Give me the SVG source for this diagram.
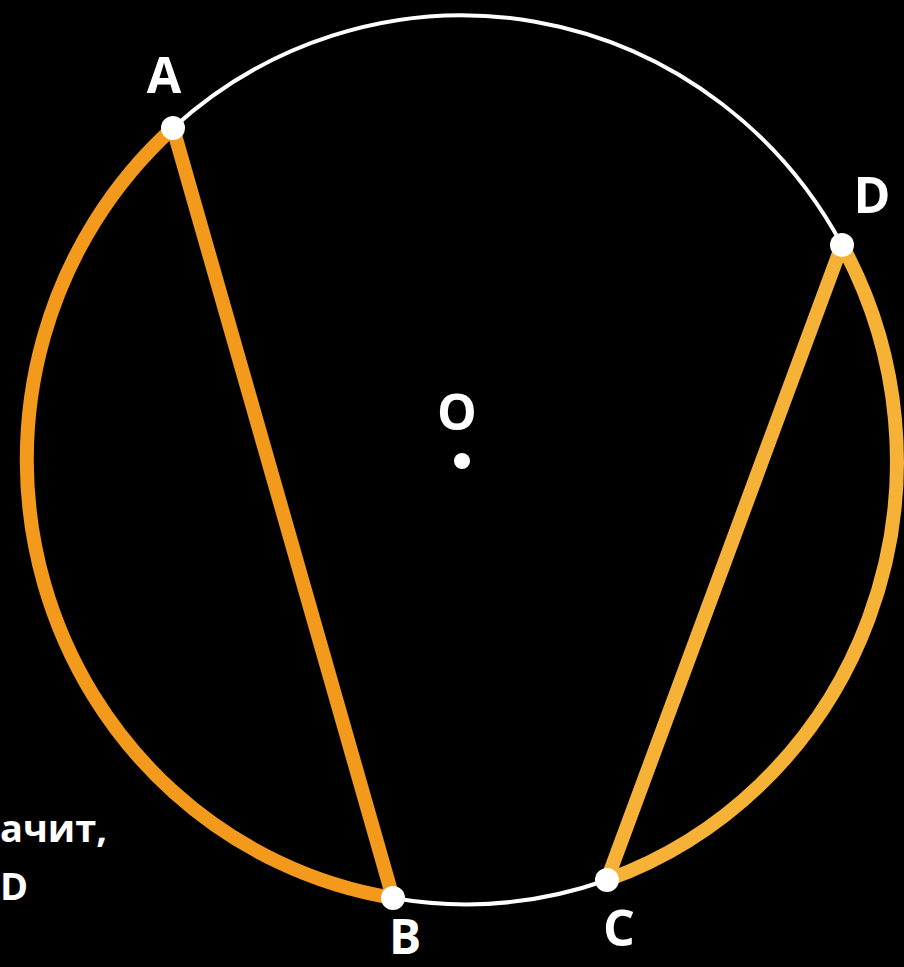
<svg xmlns="http://www.w3.org/2000/svg" width="904" height="967" viewBox="0 0 904 967">
<style>
.lbl{font-family:"Open Sans","DejaVu Sans",sans-serif;font-weight:700;fill:#ffffff;text-anchor:middle}
.txt{font-family:"Open Sans","DejaVu Sans",sans-serif;font-weight:700;fill:#ffffff}
.wh{fill:none;stroke:#ffffff;stroke-width:4}
.or1{fill:none;stroke:#f39a1c;stroke-width:14;stroke-linecap:round}
.or2{fill:none;stroke:#f6b236;stroke-width:14;stroke-linecap:round}
.pt{fill:#ffffff}
</style>
<rect width="904" height="967" fill="#000000"/>
<g id="connectors">
<path id="arc-AD" class="wh" d="M173 128 A434 444 0 0 1 842 245"/>
<path id="arc-CB" class="wh" d="M607 880 A434 444 0 0 1 393 898"/>
<path id="arc-BA" class="or1" d="M393 898 A436 444 0 0 1 173 128"/>
<path id="arc-DC" class="or2" d="M842 245 A434 444 0 0 1 607 880"/>
<line id="chord-AB" class="or1" x1="173" y1="128" x2="393" y2="898"/>
<line id="chord-DC" class="or2" x1="842" y1="245" x2="607" y2="880"/>
</g>
<g id="node-A"><circle class="pt" cx="173" cy="128" r="12"/><text class="lbl" x="164" y="93" font-size="50">A</text></g>
<g id="node-D"><circle class="pt" cx="842" cy="245" r="12"/><text class="lbl" x="872" y="213" font-size="50">D</text></g>
<g id="node-B"><circle class="pt" cx="393" cy="898" r="12"/><text class="lbl" x="405" y="954" font-size="48">B</text></g>
<g id="node-C"><circle class="pt" cx="607" cy="880" r="12"/><text class="lbl" x="619" y="946" font-size="50">C</text></g>
<g id="node-O"><circle class="pt" cx="462" cy="461" r="8"/><text class="lbl" x="457" y="430" font-size="50">O</text></g>
<g id="caption">
<text class="txt" x="0" y="842" font-size="38">ачит,</text>
<text class="txt" x="0" y="900" font-size="38">D</text>
</g>
</svg>
